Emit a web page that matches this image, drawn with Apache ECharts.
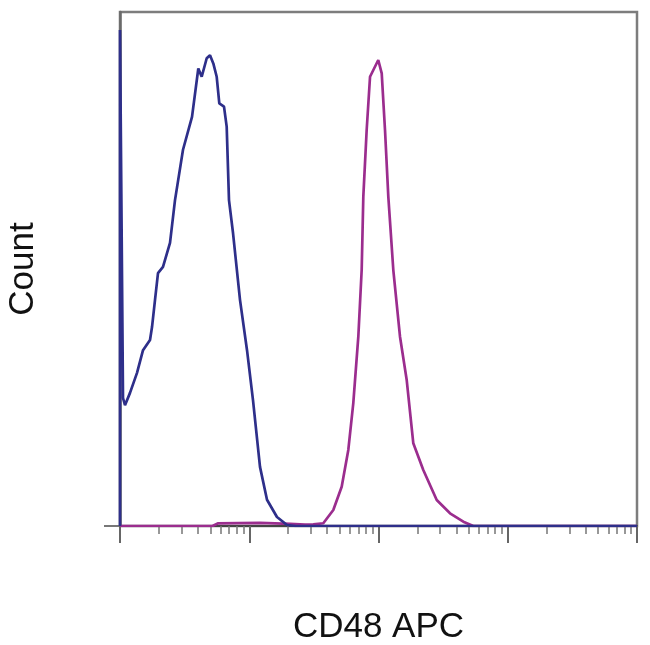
<!DOCTYPE html>
<html>
<head>
<meta charset="utf-8">
<script src="https://cdn.jsdelivr.net/npm/echarts@6/dist/echarts.min.js"></script>
<style>
html,body{margin:0;padding:0;background:#fff;}
#chart{width:650px;height:645px;}
</style>
</head>
<body>
<div id="chart"></div>
<script>
// Fluorescence intensity (log scale) and relative count (% of max)
const unstainedX = [10, 10, 10.55, 10.93, 11.95, 13.54, 15.07, 17.07, 17.69, 18.66, 19.68, 21.51, 24.37, 26.64, 30.72, 36.07, 40.35, 42.87, 46.87, 49.71, 52.71, 56.0, 58.65, 63.78, 66.9, 69.7, 74.9, 84.8, 96.1, 106.9, 121.1, 137.2, 163.9, 196, 230, 100000];
const unstainedY = [0, 96.5, 24.9, 23.5, 25.9, 29.8, 34.2, 36.2, 38.7, 44.0, 49.2, 50.4, 55.1, 63.4, 73.2, 79.6, 89.0, 87.4, 91.0, 91.6, 90.0, 87.4, 82.2, 81.6, 77.7, 63.4, 57.0, 44.0, 34.2, 24.5, 11.5, 5.1, 1.75, 0.2, 0, 0];

const cd48X = [10, 52, 57, 121, 207, 270, 313, 374, 447, 519, 584, 638, 698, 741, 763, 810, 860, 996, 1059, 1123, 1191, 1302, 1467, 1653, 1859, 2221, 2821, 3575, 4531, 5414, 100000];
const cd48Y = [0, 0, 0.5, 0.6, 0.4, 0.25, 0.3, 0.53, 3.11, 7.65, 14.79, 23.87, 36.83, 49.8, 64.07, 77.04, 87.4, 90.66, 88.07, 77.04, 64.07, 49.8, 36.83, 28.4, 16.09, 10.89, 5.06, 2.47, 0.84, 0, 0];

const majorTicks = [10, 100, 1000, 10000, 100000];
const minorTicks = [20,30,40,50,60,70,80,90, 200,300,400,500,600,700,800,900, 2000,3000,4000,5000,6000,7000,8000,9000, 20000,30000,40000,50000,60000,70000,80000,90000];

const xTitle = 'CD48 APC';
const yTitle = 'Count';

const zip = (xs, ys) => xs.map((x, i) => [x, ys[i]]);

const chart = echarts.init(document.getElementById('chart'));
const font = '"Liberation Sans", Arial, sans-serif';
chart.setOption({
  animation: false,
  backgroundColor: '#fff',
  grid: { left: 120, right: 13, top: 12, bottom: 119, containLabel: false, outerBoundsMode: 'none',
          show: true, borderColor: '#7d7d7d', borderWidth: 2.5 },
  xAxis: [
    {
      type: 'log', logBase: 10, min: 10, max: 100000,
      axisLine: { show: true, lineStyle: { color: '#444', width: 2 } },
      axisTick: { show: true, customValues: majorTicks, length: 17, lineStyle: { color: '#666', width: 2 } },
      axisLabel: { show: false },
      splitLine: { show: false },
      minorTick: { show: false },
      name: xTitle, nameLocation: 'middle', nameGap: 84,
      nameTextStyle: { fontFamily: font, fontSize: 35, color: '#111' }
    },
    {
      type: 'log', logBase: 10, min: 10, max: 100000, position: 'bottom',
      axisLine: { show: false },
      axisTick: { show: true, customValues: minorTicks, length: 8, lineStyle: { color: '#777', width: 1.5 } },
      axisLabel: { show: false },
      splitLine: { show: false }
    }
  ],
  yAxis: {
    type: 'value', min: 0, max: 100,
    axisLine: { show: true, lineStyle: { color: '#6a6a6a', width: 2.5 } },
    axisTick: { show: true, customValues: [0], length: 16, lineStyle: { color: '#777', width: 2 } },
    axisLabel: { show: false },
    splitLine: { show: false },
    name: yTitle, nameLocation: 'middle', nameGap: 79,
    nameTextStyle: { fontFamily: font, fontSize: 35, color: '#111' }
  },
  series: [
    {
      type: 'line', xAxisIndex: 0, data: zip(unstainedX, unstainedY),
      showSymbol: false, symbol: 'none', smooth: false,
      lineStyle: { color: '#2e2f8a', width: 2.7 }, z: 3
    },
    {
      type: 'line', xAxisIndex: 0, data: zip(cd48X, cd48Y),
      showSymbol: false, symbol: 'none', smooth: false,
      lineStyle: { color: '#9b2d8e', width: 2.7 }, z: 2
    }
  ]
});
</script>
</body>
</html>
